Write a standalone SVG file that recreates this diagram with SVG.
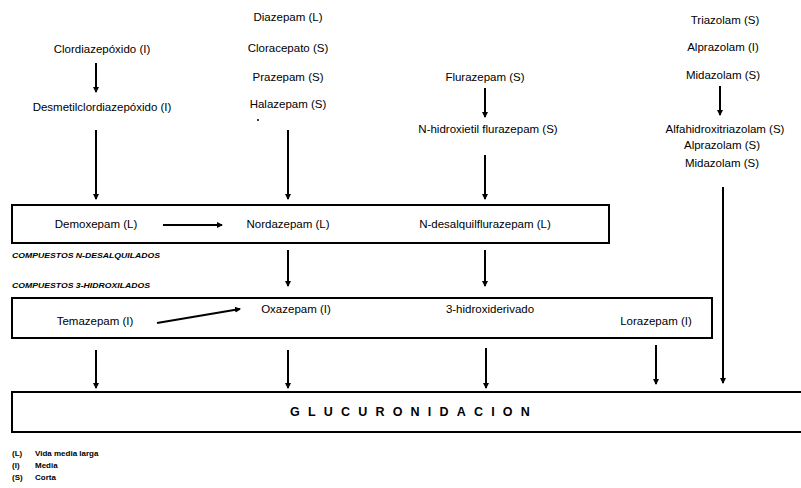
<svg xmlns="http://www.w3.org/2000/svg" width="801" height="488" viewBox="0 0 801 488">
<style>
  .t { font-family: "Liberation Sans", Arial, sans-serif; font-size: 11.5px; fill: #000; text-anchor: middle; }
  .cap { font-family: "Liberation Sans", Arial, sans-serif; font-size: 7.5px; font-weight: bold; font-style: italic; fill: #000; }
  .leg { font-family: "Liberation Sans", Arial, sans-serif; font-size: 8px; font-weight: bold; fill: #000; }
  .glu { font-family: "Liberation Sans", Arial, sans-serif; font-size: 12.5px; font-weight: bold; fill: #000; letter-spacing: 8.2px; }
  .box { fill: none; stroke: #000; stroke-width: 2; }
  .arr { stroke: #000; stroke-width: 2; fill: none; marker-end: url(#ah); }
</style>
<defs>
  <marker id="ah" markerWidth="6" markerHeight="8" refX="5" refY="4" orient="auto" markerUnits="userSpaceOnUse">
    <path d="M0,1 L6,4 L0,7 Z" fill="#000"/>
  </marker>
</defs>
<rect width="801" height="488" fill="#fff"/>

<g id="box-desalquilados"><rect class="box" x="12" y="205" width="597" height="38"/></g>
<g id="box-hidroxilados"><rect class="box" x="12" y="298" width="700" height="40"/></g>
<g id="box-glucuronidacion">
  <path class="box" d="M801,392 H12 V432 H801"/>
  <text class="glu" x="290" y="416">GLUCURONIDACION</text>
</g>

<g id="n-clordiazepoxido"><text class="t" x="102" y="53">Clordiazepóxido (I)</text></g>
<g id="n-desmetilclordiazepoxido"><text class="t" x="102" y="111">Desmetilclordiazepóxido (I)</text></g>
<g id="n-diazepam-group">
  <text class="t" x="288" y="21">Diazepam (L)</text>
  <text class="t" x="288" y="52">Cloracepato (S)</text>
  <text class="t" x="288" y="81">Prazepam (S)</text>
  <text class="t" x="288" y="108">Halazepam (S)</text>
  <circle cx="258" cy="120" r="1" fill="#000"/>
</g>
<g id="n-flurazepam"><text class="t" x="485" y="81">Flurazepam (S)</text></g>
<g id="n-hidroxietilflurazepam"><text class="t" x="488" y="133">N-hidroxietil flurazepam (S)</text></g>
<g id="n-triazolam-group">
  <text class="t" x="725" y="24">Triazolam (S)</text>
  <text class="t" x="723" y="51">Alprazolam (I)</text>
  <text class="t" x="723" y="79">Midazolam (S)</text>
</g>
<g id="n-alfahidroxi-group">
  <text class="t" x="725" y="133">Alfahidroxitriazolam (S)</text>
  <text class="t" x="722" y="149">Alprazolam (S)</text>
  <text class="t" x="722" y="167">Midazolam (S)</text>
</g>
<g id="n-demoxepam"><text class="t" x="96" y="228">Demoxepam (L)</text></g>
<g id="n-nordazepam"><text class="t" x="288" y="228">Nordazepam (L)</text></g>
<g id="n-desalquilflurazepam"><text class="t" x="485" y="228">N-desalquilflurazepam (L)</text></g>
<g id="n-temazepam"><text class="t" x="95" y="325">Temazepam (I)</text></g>
<g id="n-oxazepam"><text class="t" x="296" y="313">Oxazepam (I)</text></g>
<g id="n-hidroxiderivado"><text class="t" x="490" y="313">3-hidroxiderivado</text></g>
<g id="n-lorazepam"><text class="t" x="656" y="325">Lorazepam (I)</text></g>

<g id="labels">
  <text class="cap" x="12" y="258" textLength="148" lengthAdjust="spacingAndGlyphs">COMPUESTOS N-DESALQUILADOS</text>
  <text class="cap" x="12" y="288" textLength="138" lengthAdjust="spacingAndGlyphs">COMPUESTOS 3-HIDROXILADOS</text>
  <text class="leg" x="12" y="456">(L)</text><text class="leg" x="35" y="456">Vida media larga</text>
  <text class="leg" x="12" y="468">(I)</text><text class="leg" x="35" y="468">Media</text>
  <text class="leg" x="12" y="480">(S)</text><text class="leg" x="35" y="480">Corta</text>
</g>

<g id="connectors">
  <line class="arr" x1="96" y1="63" x2="96" y2="92"/>
  <line class="arr" x1="96" y1="130" x2="96" y2="199"/>
  <line class="arr" x1="288" y1="130" x2="288" y2="199"/>
  <line class="arr" x1="485" y1="88" x2="485" y2="117"/>
  <line class="arr" x1="485" y1="155" x2="485" y2="199"/>
  <line class="arr" x1="720" y1="86" x2="720" y2="115"/>
  <line class="arr" x1="723" y1="187" x2="723" y2="383"/>
  <line class="arr" x1="163" y1="225" x2="222" y2="225"/>
  <line class="arr" x1="157" y1="323" x2="240" y2="309"/>
  <line class="arr" x1="288" y1="250" x2="288" y2="286"/>
  <line class="arr" x1="485" y1="250" x2="485" y2="286"/>
  <line class="arr" x1="96" y1="350" x2="96" y2="388"/>
  <line class="arr" x1="288" y1="350" x2="288" y2="388"/>
  <line class="arr" x1="486" y1="348" x2="486" y2="388"/>
  <line class="arr" x1="656" y1="345" x2="656" y2="384"/>
</g>
</svg>
